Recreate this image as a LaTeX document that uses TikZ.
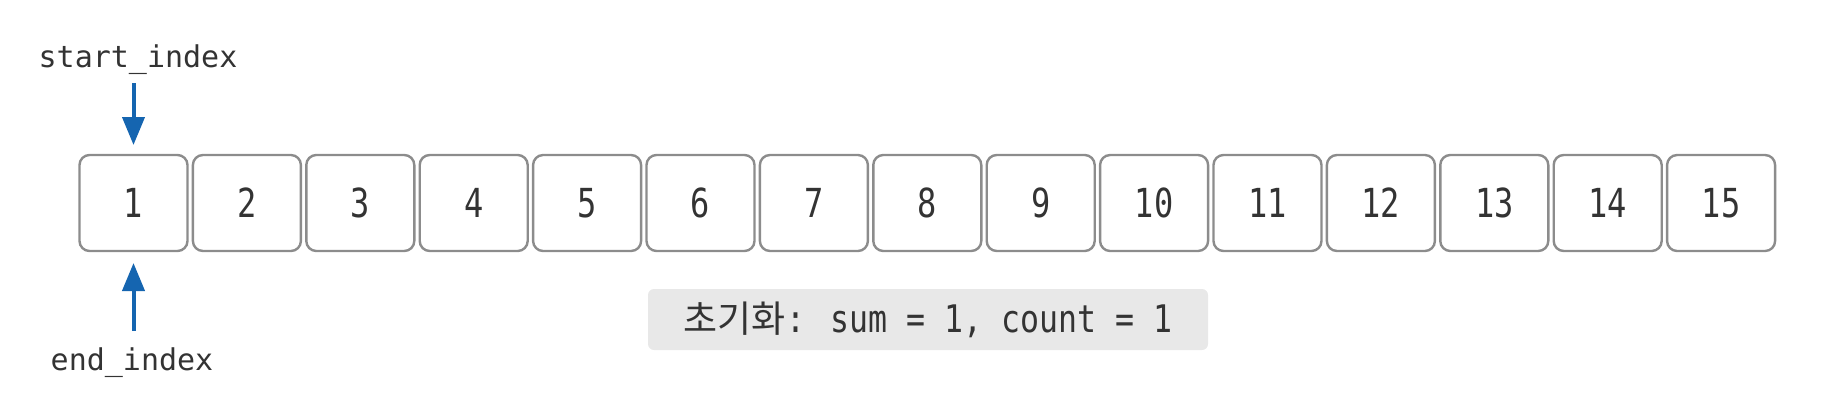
\documentclass[tikz,border=0pt]{standalone}
\usepackage{fontspec}
\usepackage{xcolor}
\usepackage{tikz}
\usetikzlibrary{positioning, arrows.meta}
\setmonofont{DejaVu Sans Mono}
\newfontfamily\cellfont[FakeStretch=0.8]{DejaVu Sans Mono}
\newfontfamily\notefont[FakeStretch=0.83]{DejaVu Sans Mono}
\newfontfamily\hangulfont{Noto Sans CJK KR}
\definecolor{cellgray}{HTML}{8C8C8C}
\definecolor{textgray}{HTML}{333333}
\definecolor{ptrblue}{RGB}{21,101,176}
\definecolor{notegray}{HTML}{E8E8E8}

\begin{document}
\begin{tikzpicture}
    [
      x=0.5pt, y=-0.5pt,
      every node/.style = {inner sep=0, outer sep=0},
      cell/.style = {draw=cellgray, line width=1.2pt, rounded corners=5pt, fill=white,
        minimum width=54pt, minimum height=48pt, text=textgray,
        font=\cellfont\fontsize{20}{24}\selectfont},
      ptr/.style = {draw=ptrblue, line width=2pt, -{Triangle[width=11pt,length=14pt]}},
      lbl/.style = {anchor=base, text=textgray, font=\ttfamily\fontsize{15}{18}\selectfont},
      note/.style = {fill=notegray, rounded corners=3pt, minimum width=280pt,
        minimum height=30.5pt, text=textgray, font=\notefont\fontsize{19}{22}\selectfont}
    ]
    \useasboundingbox (0,0) rectangle (1827,402);

    % array cells
    \node[cell] (c1) at (133.5,203) {1};
    \foreach \i [remember=\i as \prev (initially 1)] in {2,...,15}
      \node[cell, right=2.7pt of c\prev] (c\i) {\i};

    % pointers
    \node[lbl] (start) at (138,67) {start\_index};
    \node[lbl] (end) at (132,370) {end\_index};
    \draw[ptr, shorten <=4.5pt, shorten >=5pt] (start.south -| c1.north) -- (c1.north);
    \draw[ptr, shorten <=8pt, shorten >=6pt] (end.north -| c1.south) -- (c1.south);

    % state
    \node[note] (init) at (928,319.5) {{\hangulfont\fontsize{18.5}{22}\selectfont 초기화}: sum = 1, count = 1};
\end{tikzpicture}
\end{document}
